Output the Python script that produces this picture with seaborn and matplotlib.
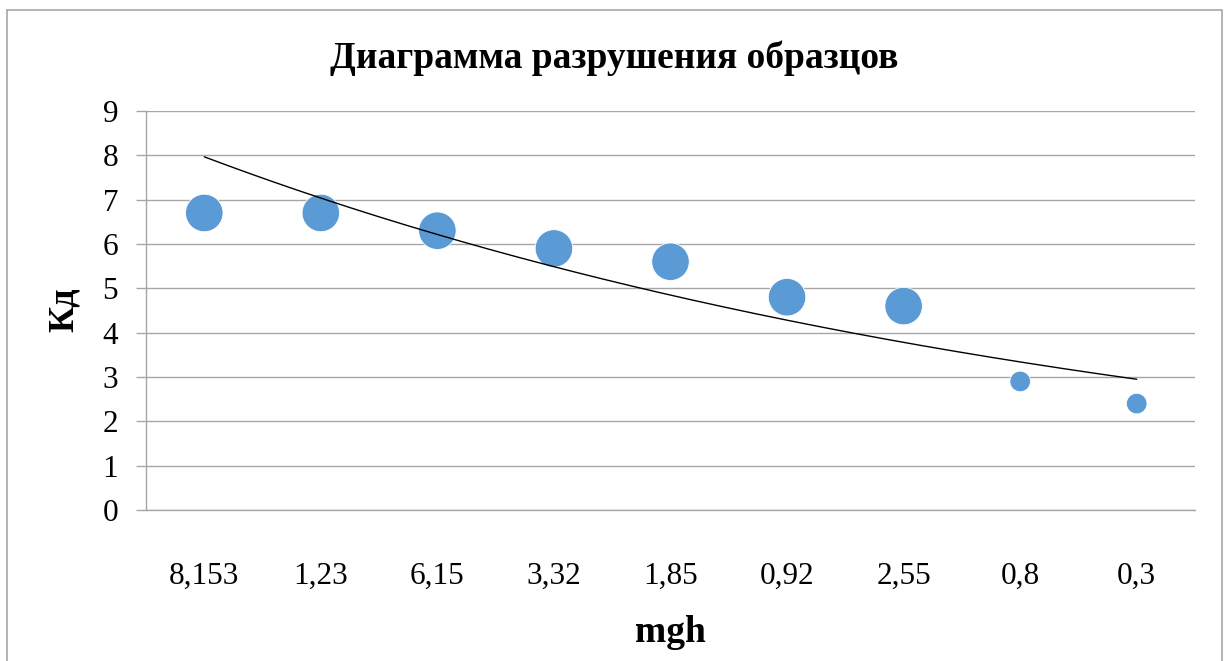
import numpy as np
import pandas as pd
import matplotlib.pyplot as plt
from matplotlib.patches import Rectangle
import seaborn as sns

mgh_labels = ['8,153', '1,23', '6,15', '3,32', '1,85', '0,92', '2,55', '0,8', '0,3']
kd_values = [6.7, 6.7, 6.3, 5.9, 5.6, 4.8, 4.6, 2.9, 2.4]
bubble_sizes = [10, 10, 10, 10, 10, 10, 10, 3, 3]

# экспоненциальная линия тренда (Excel: x = 1..9)
trend_a = 9.02
trend_b = -0.1242

BLUE = '#5b9bd5'
GRID = '#a6a6a6'

sns.set_theme(style='white')
plt.rcParams['font.family'] = ['Liberation Serif', 'DejaVu Serif']
plt.rcParams['text.color'] = 'black'
plt.rcParams['xtick.labelcolor'] = 'black'
plt.rcParams['ytick.labelcolor'] = 'black'

df = pd.DataFrame({
    'pos': np.arange(len(mgh_labels)),
    'mgh': mgh_labels,
    'Kd': kd_values,
    'size': bubble_sizes,
})

fig = plt.figure(figsize=(12.29, 6.61), dpi=100)
ax = fig.add_axes([146 / 1229, 1 - 510 / 661, (1195 - 146) / 1229, (510 - 111) / 661])

# линии сетки
ax.set_axisbelow(True)
ax.yaxis.grid(True, color=GRID, linewidth=1)
ax.xaxis.grid(False)

sns.scatterplot(
    data=df, x='pos', y='Kd',
    size='size', sizes=(220, 730),
    color=BLUE, edgecolor='white', linewidth=0.6,
    legend=False, ax=ax, zorder=3
)

# тренд
xs = np.linspace(0, len(mgh_labels) - 1, 200)
trend = trend_a * np.exp(trend_b * (xs + 1))
sns.lineplot(x=xs, y=trend, color='black', linewidth=1, ax=ax, zorder=4)

ax.set_xlim(-0.5, len(mgh_labels) - 0.5)
ax.set_ylim(0, 9)
ax.set_yticks(range(0, 10))
ax.set_xticks(df['pos'])
ax.set_xticklabels(mgh_labels)
ax.set_xlabel('')
ax.set_ylabel('')

ax.tick_params(axis='y', length=7, width=1, color=GRID, pad=13, labelsize=22.5,
               left=True, labelcolor='black')
ax.tick_params(axis='x', length=0, pad=37, labelsize=22.5, labelcolor='black')

for side in ['top', 'right']:
    ax.spines[side].set_visible(False)
for side in ['left', 'bottom']:
    ax.spines[side].set_color(GRID)
    ax.spines[side].set_linewidth(1)

fig.text(0.5, 1 - 58 / 661, 'Диаграмма разрушения образцов',
         ha='center', va='center', fontsize=27, fontweight='bold', color='black')
fig.text(64 / 1229, 1 - 310 / 661, 'Кд', rotation=90,
         ha='center', va='center', fontsize=26, fontweight='bold', color='black')
fig.text(670 / 1229, 1 - 632 / 661, 'mgh',
         ha='center', va='center', fontsize=27, fontweight='bold', color='black')

# рамка области диаграммы
fig.patches.append(Rectangle((7 / 1229, -0.05), (1222 - 7) / 1229, 1.05 - 10 / 661,
                             transform=fig.transFigure, fill=False,
                             edgecolor=GRID, linewidth=1.2))

fig.savefig('out.png', dpi=100)
